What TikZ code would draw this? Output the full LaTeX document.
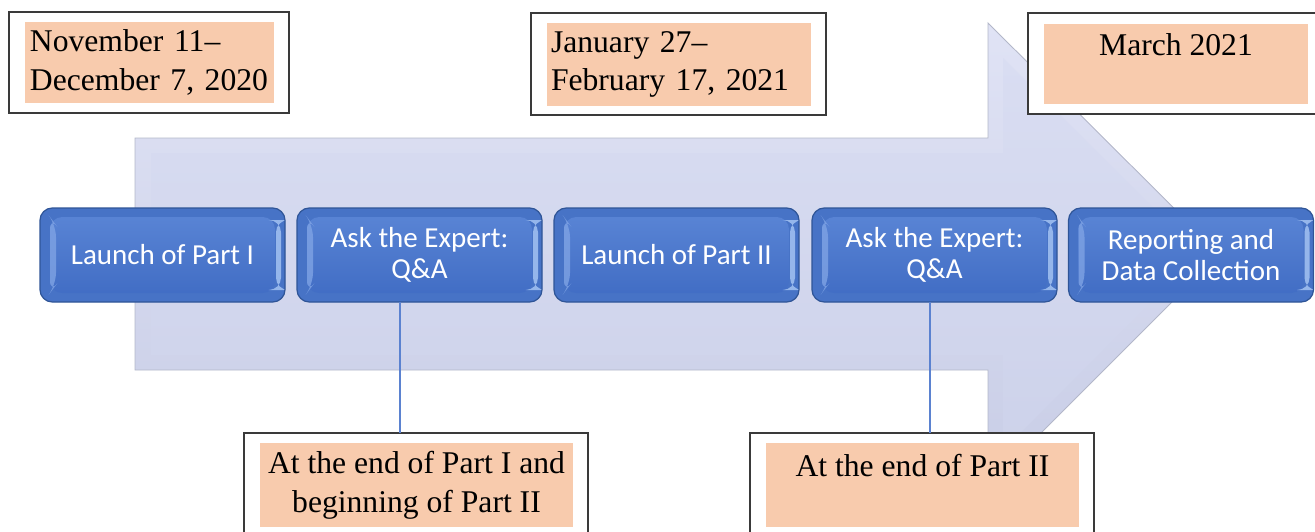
\documentclass[tikz,border=0pt]{standalone}
\usepackage{fontspec}
\setmainfont{Liberation Serif}
\newfontfamily\calfont{Carlito}
\usetikzlibrary{calc}
\definecolor{peach}{HTML}{F8CBAD}
\definecolor{bluedark}{HTML}{2F5597}
\definecolor{blueedge}{HTML}{4773C6}
\definecolor{bluetop}{HTML}{5B86D6}
\definecolor{bluebot}{HTML}{3F6BC3}
\definecolor{bluefacet}{HTML}{7FA3E4}
\definecolor{bluehigh}{HTML}{A3C2F2}
\definecolor{arrowline}{HTML}{B3B7C9}
\definecolor{rimtop}{HTML}{E0E3F5}
\definecolor{rimbot}{HTML}{C8CDE6}
\definecolor{arrowtop}{HTML}{D9DDF2}
\definecolor{arrowbot}{HTML}{CDD2EA}
\definecolor{connblue}{HTML}{5B82D0}
\definecolor{boxline}{HTML}{3A3A3A}
\def\PX{0.02cm}
\tikzset{
  bluebox/.style={draw=bluedark, line width=0.7pt, rounded corners=7pt, fill=blueedge,
    minimum width=245*\PX, minimum height=94*\PX, inner sep=0pt, outer sep=0pt,
    text=white, align=center, font=\calfont\fontsize{16.5}{18}\selectfont,
    path picture={
      \shade[top color=bluetop, bottom color=bluebot]
        ($(path picture bounding box.north west)+(10,9)$) rectangle
        ($(path picture bounding box.south east)+(-10,-9)$);
      \fill[bluefacet, opacity=0.8]
        ($(path picture bounding box.north west)+(10,9)$) --
        ($(path picture bounding box.north west)+(16,17)$) --
        ($(path picture bounding box.south west)+(16,-17)$) --
        ($(path picture bounding box.south west)+(10,-9)$) -- cycle;
      \fill[bluehigh, opacity=0.85]
        ($(path picture bounding box.north east)+(-9,12)$) rectangle
        ($(path picture bounding box.south east)+(-4,-12)$);
    }},
  outerbox/.style={draw=boxline, line width=1pt, fill=white, inner sep=0pt, outer sep=0pt},
  peachbox/.style={fill=peach, inner sep=0pt, outer sep=0pt,
    font=\fontsize{18}{22}\selectfont},
  conn/.style={draw=connblue, line width=0.6pt}
}
\begin{document}
\begin{tikzpicture}[x=0.02cm,y=-0.02cm]
\useasboundingbox (0,0) rectangle (1315,531);
% big arrow
\shade[top color=rimtop, bottom color=rimbot, draw=arrowline, line width=0.5pt] (135,138) -- (988,138) -- (988,23) -- (1220,254) -- (988,486) -- (988,370) -- (135,370) -- cycle;
\shade[top color=arrowtop, bottom color=arrowbot] (151,153) -- (1003,153) -- (1003,58) -- (1199,254) -- (1003,450) -- (1003,355) -- (151,355) -- cycle;
% blue boxes
\node[bluebox] (b1) at (162.5,255) {Launch of Part I};
\node[bluebox] (b2) at (419.5,255) {Ask the Expert:\\Q\&A};
\node[bluebox] (b3) at (676.5,255) {Launch of Part II};
\node[bluebox] (b4) at (934.5,255) {Ask the Expert:\\Q\&A};
\node[bluebox] (b5) at (1191,255) {Reporting and\\Data Collection};
% top date boxes
\node[outerbox, minimum width=280*\PX, minimum height=101*\PX] (o1) at (149,62.5) {};
\node[peachbox, minimum width=249*\PX, minimum height=81*\PX, text width=239*\PX, align=left] (d1) at (149.5,62.5) {November 11--\\December 7, 2020};
\node[outerbox, minimum width=295*\PX, minimum height=102*\PX] (o2) at (678.5,64) {};
\node[peachbox, minimum width=264*\PX, minimum height=83*\PX, text width=256*\PX, align=left] (d2) at (679,64.5) {January 27--\\February 17, 2021};
\node[outerbox, minimum width=300*\PX, minimum height=101*\PX] (o3) at (1178,63.5) {};
\node[peachbox, minimum width=264*\PX, minimum height=80*\PX, align=center] (d3) at (1176,64) {March 2021\\\mbox{}};
% bottom boxes
\node[outerbox, minimum width=344*\PX, minimum height=120*\PX] (o4) at (416,493) {};
\node[peachbox, minimum width=313*\PX, minimum height=84*\PX, align=center] (d4) at (416.5,485) {At the end of Part I and\\beginning of Part II};
\node[outerbox, minimum width=344*\PX, minimum height=120*\PX] (o5) at (922,493) {};
\node[peachbox, minimum width=313*\PX, minimum height=84*\PX, align=center] (d5) at (922.5,485) {At the end of Part II\\\mbox{}};
% connectors
\coordinate (c1) at (400,0);
\coordinate (c2) at (930,0);
\draw[conn] (b2.south -| c1) -- (o4.north -| c1);
\draw[conn] (b4.south -| c2) -- (o5.north -| c2);
\end{tikzpicture}
\end{document}
